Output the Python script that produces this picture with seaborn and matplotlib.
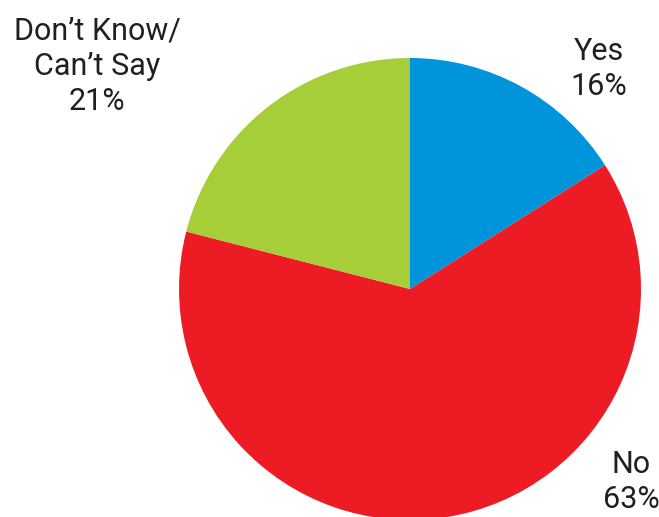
import matplotlib
matplotlib.use("Agg")
import matplotlib.pyplot as plt
import seaborn as sns

# Survey answers and their shares (%)
categories = ["Yes", "No", "Don\u2019t Know/\nCan\u2019t Say"]
shares = [16, 63, 21]
colors = ["#0095DA", "#ED1C24", "#A6CE39"]

sns.set_theme(style="white")
plt.rcParams["font.family"] = ["Roboto", "DejaVu Sans"]

W, H = 659, 517
fig = plt.figure(figsize=(W / 100, H / 100), dpi=100)
ax = fig.add_axes([0, 0, 1, 1])

cx, cy, r = 410, 289, 231
ax.pie(shares, colors=colors, startangle=90, counterclock=False,
       center=(cx, -cy), radius=r, frame=False,
       wedgeprops=dict(linewidth=0, antialiased=True))

ax.set_xlim(0, W)
ax.set_ylim(-H, 0)
ax.set_aspect("equal")
ax.axis("off")

# label anchors (baseline of the last line)
label_pos = {"Yes": (599, 95), "No": (631, 508),
             "Don\u2019t Know/\nCan\u2019t Say": (97, 110)}
for cat, val in zip(categories, shares):
    x, y = label_pos[cat]
    ax.text(x, -y, f"{cat}\n{val}%", ha="center", va="baseline",
            multialignment="center", fontsize=22, color="#231F20",
            linespacing=1.28)

fig.savefig("out.png", dpi=100)
